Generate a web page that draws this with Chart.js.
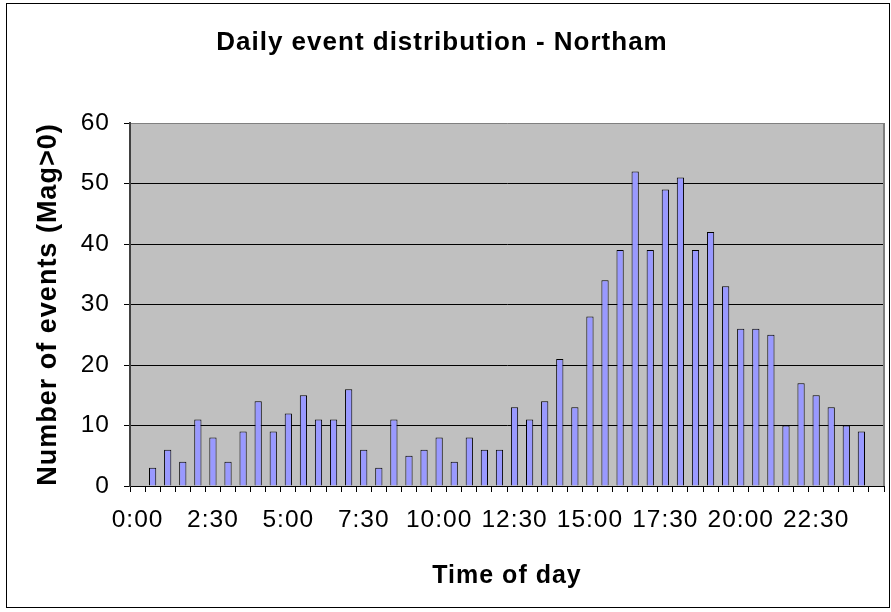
<!DOCTYPE html>
<html>
<head>
<meta charset="utf-8">
<script src="https://cdn.jsdelivr.net/npm/chart.js@4"></script>
<style>
  html, body { margin: 0; padding: 0; background: #fff; }
  canvas { display: block; }
</style>
</head>
<body>
<canvas id="c" width="891" height="612"></canvas>
<script>
const categories = ["0:00","0:30","1:00","1:30","2:00","2:30","3:00","3:30","4:00","4:30",
  "5:00","5:30","6:00","6:30","7:00","7:30","8:00","8:30","9:00","9:30",
  "10:00","10:30","11:00","11:30","12:00","12:30","13:00","13:30","14:00","14:30",
  "15:00","15:30","16:00","16:30","17:00","17:30","18:00","18:30","19:00","19:30",
  "20:00","20:30","21:00","21:30","22:00","22:30","23:00","23:30","24:00","24:30"];
const eventCounts = [null, 3, 6, 4, 11, 8, 4, 9, 14, 9, 12, 15, 11, 11, 16, 6, 3, 11, 5, 6, 8,
  4, 8, 6, 6, 13, 11, 14, 21, 13, 28, 34, 39, 52, 39, 49, 51, 39, 42, 33, 26,
  26, 25, 10, 17, 15, 13, 10, 9, null];
const tickLabels = ["0:00","2:30","5:00","7:30","10:00","12:30","15:00","17:30","20:00","22:30"];
const yTicks = [0, 10, 20, 30, 40, 50, 60];

const FAMILY = "'Liberation Sans', Arial, sans-serif";

const frame = {
  id: 'frame',
  beforeDraw(chart) {
    const {ctx, chartArea: a} = chart;
    ctx.save();
    ctx.fillStyle = '#ffffff';
    ctx.fillRect(0, 0, chart.width, chart.height);
    ctx.strokeStyle = '#000000';
    ctx.lineWidth = 1;
    ctx.strokeRect(6.5, 3.5, 883, 604);
    ctx.fillStyle = '#C0C0C0';
    ctx.fillRect(a.left, a.top, a.right - a.left, a.bottom - a.top);
    ctx.restore();
    ctx.letterSpacing = '1px';
  },
  beforeDatasetsDraw(chart) {
    const {ctx, chartArea: a} = chart;
    ctx.save();
    ctx.strokeStyle = '#808080';
    ctx.lineWidth = 2;
    ctx.beginPath();
    ctx.moveTo(a.right, a.top);
    ctx.lineTo(a.right, a.bottom);
    ctx.stroke();
    ctx.restore();
  }
};

new Chart(document.getElementById('c'), {
  type: 'bar',
  data: {
    labels: categories,
    datasets: [{
      data: eventCounts,
      backgroundColor: '#9999FF',
      borderColor: '#000000',
      borderWidth: 1,
      barPercentage: 0.48,
      categoryPercentage: 1.0
    }]
  },
  options: {
    responsive: false,
    animation: false,
    layout: { padding: { top: 0, left: 0, right: 7, bottom: 0 } },
    plugins: {
      legend: { display: false },
      tooltip: { enabled: false },
      title: {
        display: true,
        text: 'Daily event distribution - Northam',
        color: '#000',
        font: { family: FAMILY, size: 26, weight: 'bold' },
        padding: { top: 27, bottom: 64.8 }
      }
    },
    scales: {
      x: {
        offset: true,
        grid: {
          display: true,
          offset: true,
          drawOnChartArea: false,
          drawTicks: true,
          tickLength: 6,
          color: '#000'
        },
        border: { display: true, color: '#000', width: 1 },
        ticks: {
          autoSkip: false,
          maxRotation: 0,
          minRotation: 0,
          padding: 14,
          color: '#000',
          font: { family: FAMILY, size: 24.5 },
          callback: function(value, index) {
            const l = categories[index];
            return tickLabels.includes(l) ? l : '';
          }
        },
        title: {
          display: true,
          text: 'Time of day',
          color: '#000',
          font: { family: FAMILY, size: 25, weight: 'bold' },
          padding: { top: 0, bottom: 21 }
        },
        afterFit(scale) { scale.height = 126; }
      },
      y: {
        min: 0,
        max: 60,
        afterBuildTicks(scale) { scale.ticks = yTicks.map(v => ({ value: v })); },
        grid: {
          color: ctx => (ctx.tick && ctx.tick.value === 60) ? '#808080' : '#000000',
          tickColor: '#000',
          tickLength: 6,
          lineWidth: 1
        },
        border: { display: true, color: '#404040', width: 2 },
        ticks: {
          padding: 14,
          color: '#000',
          font: { family: FAMILY, size: 24.5 }
        },
        title: {
          display: true,
          text: 'Number of events (Mag>0)',
          color: '#000',
          font: { family: FAMILY, size: 27, weight: 'bold' },
          padding: { top: 32.4, bottom: 0 }
        },
        afterFit(scale) { scale.width = 130; }
      }
    }
  },
  plugins: [frame]
});
</script>
</body>
</html>
